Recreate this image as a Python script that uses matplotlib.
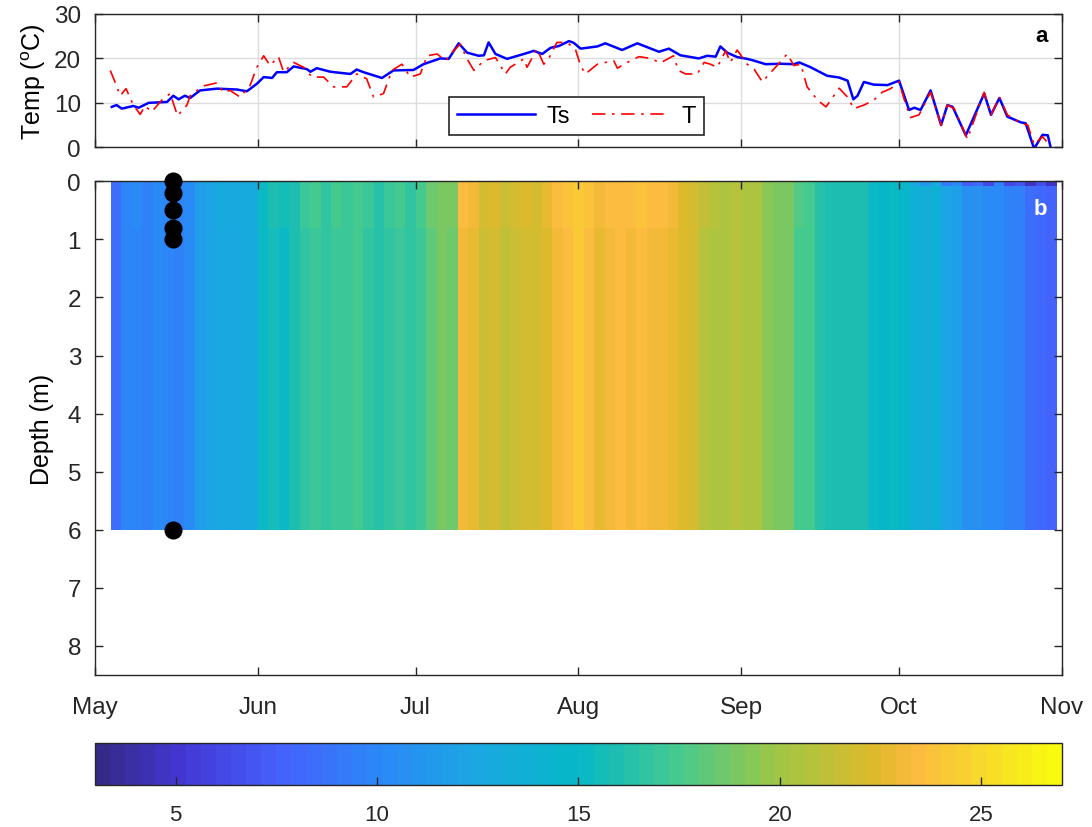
import numpy as np
import matplotlib
matplotlib.use("Agg")
import matplotlib.pyplot as plt
import matplotlib.dates as mdates
from matplotlib.colors import LinearSegmentedColormap

plt.rcParams['font.family'] = ['Liberation Sans', 'DejaVu Sans']
plt.rcParams['mathtext.default'] = 'regular'

# =====================================================
# Data (days since 1 May)
# =====================================================
ts_day = [3.2, 4.1, 5.1, 7.3, 8.3, 10.2, 13.7, 14.9, 15.9, 17.1, 18.1, 20.0, 23.2, 27.0,
          28.9, 30.8, 32.1, 33.7, 34.6, 36.5, 37.8, 40.3, 41.0, 42.2, 44.8, 48.6, 49.8,
          51.1, 54.6, 56.8, 60.6, 62.5, 65.7, 67.3, 69.2, 70.8, 73.0, 74.0, 74.9, 76.2,
          78.4, 81.6, 83.5, 85.1, 86.7, 88.3, 90.2, 91.1, 92.4, 95.6, 97.1, 100.3, 103.2,
          107.3, 109.2, 111.4, 114.9, 116.5, 118.1, 119.0, 120.3, 122.2, 124.1, 125.4,
          127.6, 130.5, 133.0, 134.0, 136.2, 139.3, 141.6, 143.2, 144.3, 145.1, 146.3,
          148.2, 150.8, 153.0, 154.9, 155.9, 157.1, 159.0, 161.0, 162.2, 163.2, 165.7,
          169.2, 170.5, 172.1, 173.6, 176.2, 177.1, 178.7, 180.3, 181.3, 181.9]
ts_val = [9.1, 9.5, 8.7, 9.3, 8.9, 10.0, 10.2, 11.6, 10.8, 11.6, 11.1, 12.8, 13.2, 13.0,
          12.6, 14.3, 15.8, 15.6, 16.9, 16.9, 18.2, 17.6, 17.0, 17.8, 17.0, 16.5, 17.5,
          16.9, 15.6, 17.3, 17.4, 18.7, 20.0, 19.9, 23.4, 21.3, 20.6, 20.7, 23.6, 21.0,
          19.9, 21.0, 21.7, 21.0, 22.4, 22.8, 23.9, 23.5, 22.2, 22.7, 23.4, 21.9, 23.4,
          21.5, 22.2, 20.7, 20.0, 20.6, 20.4, 22.7, 21.3, 20.3, 19.9, 19.5,
          18.7, 18.8, 18.7, 19.1, 18.0, 16.1, 15.7, 15.0, 10.8, 11.6, 14.7,
          14.1, 14.0, 15.0, 8.4, 8.9, 8.4, 12.8, 5.0, 9.5, 9.1, 2.7,
          12.1, 7.3, 11.1, 6.9, 5.6, 5.4, -0.3, 2.8, 2.7, -0.3]

t_day = [2.9, 3.8, 4.8, 5.9, 7.3, 8.6, 9.5, 10.8, 12.7, 14.3, 15.7, 17.5, 18.1, 20.6,
         23.2, 24.4, 25.7, 27.6, 29.5, 30.8, 32.1, 33.3, 34.9, 35.9, 37.8, 39.7, 41.3,
         43.5, 45.4, 47.9, 49.8, 51.7, 53.0, 54.9, 56.5, 58.4, 60.0, 61.9, 63.2, 65.1,
         66.7, 67.9, 69.5, 70.8, 72.1, 74.0, 76.2, 78.1, 79.0, 81.6, 82.2, 84.1, 85.4,
         86.3, 87.9, 89.8, 91.4, 92.4, 93.3, 95.6, 98.7, 99.4, 101.3, 103.5, 105.7,
         107.6, 110.1, 111.0, 112.4, 114.6, 115.9, 117.1, 118.4, 120.0, 120.9, 122.2,
         124.1, 125.4, 127.0, 128.0, 129.8, 131.7, 133.0, 134.3, 135.5, 137.5, 139.1,
         141.6, 143.2, 144.4, 146.3, 148.2, 149.8, 151.4, 153.0, 154.3, 155.2, 156.8,
         159.0, 161.0, 162.2, 163.5, 166.0, 169.2, 170.5, 172.1, 173.6, 176.2, 177.5,
         178.7, 180.3, 181.6]
t_val = [17.3, 14.7, 11.6, 13.2, 9.5, 7.4, 9.3, 8.0, 10.6, 12.1, 7.1, 9.5, 11.6, 13.8,
         14.5, 12.4, 12.8, 11.3, 13.9, 18.0, 20.6, 18.4, 20.4, 16.9, 19.1, 18.0, 15.8,
         15.8, 13.6, 13.6, 16.5, 15.4, 11.3, 12.1, 17.3, 18.7, 15.8, 16.5, 20.6, 21.0,
         19.5, 21.3, 23.2, 19.9, 17.3, 19.5, 20.2, 16.5, 18.0, 19.9, 18.0, 22.1, 18.7,
         19.9, 23.6, 23.6, 22.1, 18.4, 16.5, 18.7, 19.5, 17.8, 19.1, 20.4, 20.0,
         19.0, 20.6, 17.3, 16.5, 16.5, 19.1, 18.7, 18.0, 21.7, 19.1, 21.9,
         18.7, 17.6, 14.7, 16.1, 18.4, 21.0, 18.4, 18.7, 13.6, 10.6, 9.1,
         13.3, 11.3, 8.7, 9.5, 10.6, 12.4, 13.2, 14.7, 9.5, 6.7, 7.3,
         12.4, 5.0, 9.5, 8.7, 1.9, 12.4, 7.3, 11.3, 7.3, 5.4, 5.0,
         0.6, 2.4, 0.6]

# heat map: 2-day columns starting 4 May, bulk water temperature
col_start = 3.0
col_step = 2.0
col_temp = [8.5,
            9.8, 10.0, 9.6, 10.2, 10.0, 9.7, 10.3,
            11.8, 12.2, 12.6, 12.4, 12.8, 13.0,
            15.0, 15.6, 15.3, 15.8,
            16.8, 17.2, 16.6, 17.0, 16.9, 17.3, 16.7, 16.2, 16.8, 17.1, 16.5, 17.2,
            18.2, 18.8, 18.5,
            23.0, 22.6,
            21.4, 21.8, 21.2, 21.6,
            22.0, 21.8, 22.3,
            23.2, 23.6, 24.0, 23.4, 22.8, 23.1, 23.3, 22.9, 23.5, 23.0, 23.2, 22.8,
            22.2, 21.9,
            20.8, 20.6, 20.4, 20.7, 20.3, 20.5,
            19.2, 18.9, 19.0,
            17.6, 17.4,
            16.2, 16.0, 15.9, 16.1, 15.8,
            15.1, 14.9, 15.0, 14.8,
            13.6, 13.4, 13.5,
            12.2, 11.9,
            10.7, 10.5, 10.3, 10.4,
            9.6, 9.4,
            8.6, 8.1, 7.8]
# extra warming in the upper 0.8 m
upper_anom = [0, 0, 0.15, 0, 0.1, 0, 0.15, 0, 0.1, 0, 0.2, 0, 0.15, 0.1,
              0.2, 0.3, 0.1, 0.25,
              0.25, 0.4, 0.15, 0.5, 0.2, 0.3, 0.45, 0.1, 0.35, 0.25, 0.15, 0.4,
              0.3, 0.2, 0.4, 0.25, 0.5, 0.35, 0.45, 0.2, 0.3, 0.4, 0.25, 0.5,
              0.2, 0.35, 0.3, 0.45, 0.15, 0.4, 0.25, 0.35, 0.2, 0.3, 0.15, 0.25,
              0.15, 0.1, 0.2, 0.1, 0.15, 0.05, 0.1, 0.05, 0.1, 0.05, 0.1, 0.05,
              0.05, 0, 0.05, 0, 0, 0, 0, 0, 0, 0, 0, 0, 0, 0, 0, 0, 0, 0, 0,
              0, 0, 0, 0, 0]
# cooling of the surface skin in autumn
skin_anom = [0] * 76 + [-1.0, -2.5, -0.5, -3.0, -1.5, -3.5, -2.0, -4.0,
                        -1.0, -3.5, -2.5, -4.0, -1.5, -3.0]
depth_edges = [0, 0.08, 0.8, 6.0]

dot_day = 14.9
dot_depth = [0, 0.2, 0.5, 0.8, 1.0, 6.0]

cbar_ticks = [5, 10, 15, 20, 25]

# =====================================================
# Parula-like colormap
# =====================================================
parula_pts = [(0.000, (0.208, 0.166, 0.529)),
              (0.083, (0.265, 0.215, 0.830)),
              (0.188, (0.270, 0.380, 0.990)),
              (0.290, (0.170, 0.530, 0.970)),
              (0.396, (0.100, 0.660, 0.880)),
              (0.500, (0.020, 0.720, 0.780)),
              (0.604, (0.270, 0.790, 0.560)),
              (0.708, (0.620, 0.780, 0.270)),
              (0.812, (0.870, 0.730, 0.170)),
              (0.854, (0.990, 0.730, 0.250)),
              (0.917, (0.970, 0.840, 0.180)),
              (1.000, (0.976, 0.983, 0.054))]
parula = LinearSegmentedColormap.from_list('parula', parula_pts, N=64)

base = np.datetime64('2015-05-01T00:00')


def to_num(days):
    mins = (np.asarray(days, dtype=float) * 1440).astype('int64')
    return mdates.date2num(base + mins.astype('timedelta64[m]'))


x_start = mdates.date2num(np.datetime64('2015-05-01'))
x_end = mdates.date2num(np.datetime64('2015-11-01'))

edge_days = col_start + col_step * np.arange(len(col_temp) + 1)
col = np.array(col_temp)
up = col + np.array(upper_anom)
Z = np.vstack([up + np.array(skin_anom), up, col])

# =====================================================
# Figure
# =====================================================
fig = plt.figure(figsize=(10.92, 8.28), dpi=100)
ax1 = fig.add_axes([0.087, 0.8209, 0.8855, 0.161])
ax2 = fig.add_axes([0.087, 0.1836, 0.8855, 0.5963])
cax = fig.add_axes([0.087, 0.0507, 0.8855, 0.0507])

dark = '#262626'

# ---- panel a
ax1.plot(to_num(ts_day), ts_val, '-', color='#0000ff', lw=1.8, label='Ts')
ax1.plot(to_num(t_day), t_val, '-.', color='#ff0000', lw=1.2, label='T',
         dashes=(8, 4, 1.5, 4))
ax1.set_ylim(0, 30)
ax1.set_yticks([0, 10, 20, 30])
ax1.set_ylabel('Temp ($^o$C)', fontsize=18, labelpad=4)
ax1.grid(True, color='#dcdcdc', lw=1)
ax1.set_axisbelow(True)
leg = ax1.legend(ncol=2, loc='center', bbox_to_anchor=(0.498, 0.235), fontsize=17,
                 fancybox=False, edgecolor=dark, framealpha=1, handlelength=3.3,
                 columnspacing=0.9, borderpad=0.35, handletextpad=0.5)
leg.get_frame().set_linewidth(1.2)
ax1.text(0.985, 0.835, 'a', transform=ax1.transAxes, ha='right', va='center',
         fontsize=16, fontweight='bold')

# ---- panel b
mesh = ax2.pcolormesh(to_num(edge_days), depth_edges, Z, cmap=parula,
                      vmin=3, vmax=27, shading='flat')
ax2.plot([to_num(dot_day)] * len(dot_depth), dot_depth, 'o', color='k', ms=12,
         clip_on=False, zorder=5)
ax2.set_ylim(8.5, 0)
ax2.set_yticks(range(0, 9))
ax2.set_ylabel('Depth (m)', fontsize=18, labelpad=10)
ax2.text(0.985, 0.944, 'b', transform=ax2.transAxes, ha='right', va='center',
         fontsize=16, fontweight='bold', color='white')

for ax in (ax1, ax2):
    ax.set_xlim(x_start, x_end)
    ax.xaxis.set_major_locator(mdates.MonthLocator())
    ax.xaxis.set_major_formatter(mdates.DateFormatter('%b'))
    ax.tick_params(direction='in', length=6, width=1, top=True, right=True,
                   labelsize=17.5, color=dark, labelcolor=dark)
    ax.tick_params(axis='y', pad=10)
    for s in ax.spines.values():
        s.set_color(dark)
        s.set_linewidth(1)
ax1.tick_params(labelbottom=False)
ax2.tick_params(axis='x', pad=15)

# ---- colorbar
cb = fig.colorbar(mesh, cax=cax, orientation='horizontal', ticks=cbar_ticks)
cb.ax.tick_params(direction='in', length=6, width=1, labelsize=16, pad=14,
                  color=dark, labelcolor=dark)
cb.outline.set_edgecolor(dark)
cb.outline.set_linewidth(1)

fig.savefig('out.png', dpi=100)
